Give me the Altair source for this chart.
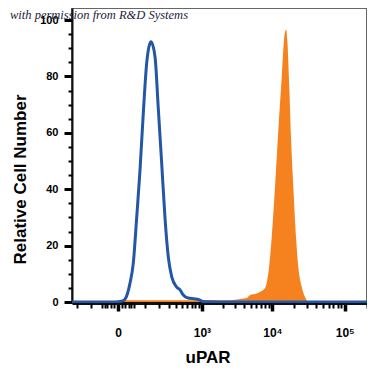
import altair as alt
import pandas as pd

# ---- data (fluorescence intensity vs relative count) ----
blue_x = [-248, -57.8, -7.5, 9.3, 18.7, 34.8, 46.9, 60.8, 75.8, 92.4, 111.5, 132, 139,
          168, 194, 225, 258, 295, 338, 408, 462, 521, 617, 789, 938, 1039, 1317, 2550, 203000]
blue_y = [0, 0, 0, 0.3, 1.0, 6.7, 13.8, 30, 46.8, 67, 84.8, 91.8, 92.3,
          86.9, 69, 49.3, 30, 16, 8.9, 5.3, 4.3, 2.5, 1.4, 1.1, 0.7, 0.2, 0.1, 0, 0]

orange_x = [12.9, 20, 2550, 3000, 3530, 4390, 4880, 6050, 6730, 7900, 8790, 9790, 10880,
            12090, 13480, 14500, 15460, 16120, 17170, 18130, 19520, 21270, 22890, 25510,
            28340, 31460, 45660]
orange_y = [0, 0.6, 0.6, 0.8, 1.1, 1.4, 2.5, 3.0, 3.6, 5.0, 10.3, 23, 40.8,
            61, 79.8, 92.9, 96.7, 92.9, 76.2, 58.5, 40.8, 23, 12.4, 5.3,
            1.8, 0, 0]

x_major = [0, 1000, 10000, 100000]
x_major_labels = ["0", "10³", "10⁴", "10⁵"]
x_minor = [-200, -100, -50, -40, -30, -20, -10, 10, 20, 30, 40, 50,
           100, 200, 300, 400, 500, 600, 700, 800, 900,
           2000, 3000, 4000, 5000, 6000, 7000, 8000, 9000,
           20000, 30000, 40000, 50000, 60000, 70000, 80000, 90000, 200000]
y_major = [0, 20, 40, 60, 80, 100]
y_minor = [5, 10, 15, 25, 30, 35, 45, 50, 55, 65, 70, 75, 85, 90, 95]

x_title = "uPAR"
y_title = "Relative Cell Number"
note = "with permission from R&D Systems"

df_blue = pd.DataFrame({"x": blue_x, "y": blue_y})
df_orange = pd.DataFrame({"x": orange_x, "y": orange_y})
df_note = pd.DataFrame({"t": [note]})

FONT = "Liberation Sans"

xscale = alt.Scale(type="symlog", constant=75, domain=[-248, 203000], nice=False, zero=False)
yscale = alt.Scale(domain=[-0.35, 104.3], nice=False, zero=False)

label_map = "{" + ", ".join(f"'{v}': '{l}'" for v, l in zip(x_major, x_major_labels)) + "}"

x_axis_major = alt.Axis(
    orient="bottom",
    values=x_major, labelExpr=f"{label_map}[datum.value + '']",
    grid=False, domainColor="#111111", domainWidth=3,
    tickColor="#000000", tickSize=8, tickWidth=3.5,
    labelFont=FONT, labelFontWeight="bold", labelFontSize=12, labelColor="#000000",
    labelPadding=16, labelFlush=False, labelOverlap=False,
    title=x_title, titleFont=FONT, titleFontWeight="bold", titleFontSize=17,
    titleColor="#000000", titleX=135.5, titleY=59, titleBaseline="alphabetic",
)
y_axis_major = alt.Axis(
    orient="left",
    values=y_major, format="d",
    grid=False, domainColor="#111111", domainWidth=2,
    tickColor="#000000", tickSize=8, tickWidth=3,
    labelFont=FONT, labelFontWeight="bold", labelFontSize=11, labelColor="#000000",
    labelPadding=6,
    title=y_title, titleFont=FONT, titleFontWeight="bold", titleFontSize=17,
    titleColor="#000000", titleX=-47, titleY=171, titleBaseline="alphabetic",
)
x_axis_minor = alt.Axis(orient="bottom", values=x_minor, labels=False, domain=False, grid=False,
                        tickColor="#000000", tickSize=5, tickWidth=2, title="")
y_axis_minor = alt.Axis(orient="left", values=y_minor, labels=False, domain=False, grid=False,
                        tickColor="#000000", tickSize=4, tickWidth=2, title="")

orange = alt.Chart(df_orange).mark_area(
    color="#F5821F", interpolate="monotone", clip=True
).encode(
    x=alt.X("x:Q", scale=xscale, axis=x_axis_major),
    y=alt.Y("y:Q", scale=yscale, axis=y_axis_major),
)

blue = alt.Chart(df_blue).mark_line(
    color="#2356A6", strokeWidth=3, interpolate="monotone", clip=True
).encode(
    x=alt.X("x:Q", scale=xscale, axis=x_axis_minor),
    y=alt.Y("y:Q", scale=yscale, axis=y_axis_minor),
)

text = alt.Chart(df_note).mark_text(
    font="Liberation Serif", fontStyle="italic", fontSize=12.5, color="#1c1c3c",
    align="left", baseline="alphabetic"
).encode(
    x=alt.value(-62), y=alt.value(10.5), text="t:N"
)

chart = alt.layer(orange, blue, text).resolve_axis(
    x="independent", y="independent"
).properties(
    width=295, height=295,
    autosize=alt.AutoSizeParams(type="none"),
    padding={"left": 64, "top": 0, "right": 0, "bottom": 64},
).configure_view(
    stroke="#666666", strokeWidth=2
)

chart.save("out.html", embed_options={"renderer": "svg", "actions": False})
